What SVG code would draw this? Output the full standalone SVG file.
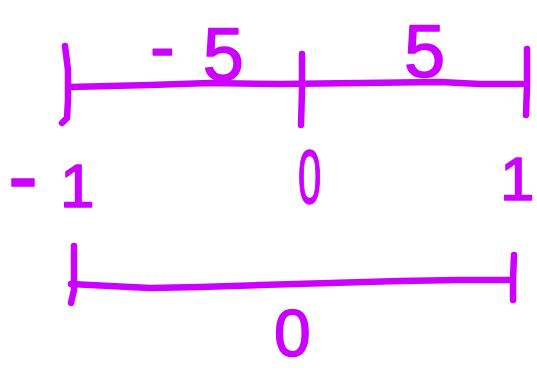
<svg xmlns="http://www.w3.org/2000/svg" width="537" height="371" viewBox="0 0 537 371">
<style>
.s{fill:none;stroke:#cc00ff;stroke-width:6.5;stroke-linecap:round;stroke-linejoin:round}
.t{font-family:"Liberation Sans",Arial,sans-serif;fill:#cc00ff;stroke:#cc00ff;stroke-width:1.5;stroke-linejoin:round}
</style>
<rect width="537" height="371" fill="#ffffff"/>
<g id="top-line">
<path class="s" d="M69,87 L110,86 L150,85 L210,83 L280,84 L360,83 L440,82 L480,84 L522,84"/>
<path class="s" d="M65,46 L68,70 L68,100 L67,118 L62,123"/>
<path class="s" d="M302,54 L302,90 L301,125"/>
<path class="s" d="M527,49 L527,85 L526,115"/>
</g>
<g id="top-labels">
<text class="t" x="150" y="80" font-size="74"><tspan dy="-8">-</tspan><tspan dx="28" dy="8">5</tspan></text>
<text class="t" x="404" y="77" font-size="74">5</text>
</g>
<g id="mid-labels">
<text class="t" x="8" y="207" font-size="62"><tspan font-size="90">-</tspan><tspan dx="22">1</tspan></text>
<text class="t" transform="translate(298,203) scale(0.55,1)" x="0" y="0" font-size="76">0</text>
<text class="t" x="500" y="200" font-size="62">1</text>
</g>
<g id="bottom-line">
<path class="s" d="M71,284 L110,286 L150,288 L200,287 L260,285 L330,283 L400,281 L460,280 L510,280"/>
<path class="s" d="M74,246 L74,290 L71,303"/>
<path class="s" d="M514,255 L513,280 L513,300"/>
</g>
<g id="bottom-label">
<text class="t" x="274" y="356" font-size="66">0</text>
</g>
</svg>
